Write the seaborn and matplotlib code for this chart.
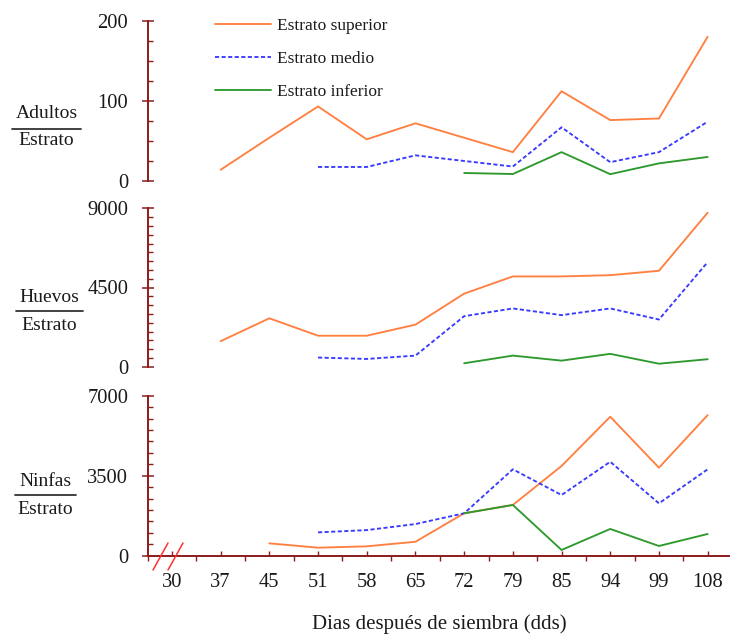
import numpy as np
import pandas as pd
import matplotlib
matplotlib.use("Agg")
import matplotlib.pyplot as plt
from matplotlib.ticker import MultipleLocator, FixedLocator
from matplotlib.lines import Line2D
import seaborn as sns

# Days after sowing (categorical axis) and the three canopy strata
dias = ["30", "37", "45", "51", "58", "65", "72", "79", "85", "94", "99", "108"]
estratos = ["Estrato superior", "Estrato medio", "Estrato inferior"]
nan = np.nan

# Adults per stratum
adultos_superior = [nan, 14, 54, 93, 52, 72, 54, 36, 112, 76, 78, 180]
adultos_medio = [nan, nan, nan, 17.5, 17.5, 32, 25, 18, 67, 23.5, 36, 74]
adultos_inferior = [nan, nan, nan, nan, nan, nan, 10, 8.7, 36, 8.5, 22, 30]

# Eggs per stratum
huevos_superior = [nan, 1450, 2750, 1760, 1760, 2390, 4150, 5130, 5130, 5200, 5450, 8750]
huevos_medio = [nan, nan, nan, 520, 440, 630, 2870, 3310, 2930, 3310, 2680, 5940]
huevos_inferior = [nan, nan, nan, nan, nan, nan, 195, 630, 345, 730, 170, 425]

# Nymphs per stratum
ninfas_superior = [nan, nan, 540, 350, 410, 610, 1855, 2220, 3925, 6080, 3850, 6150]
ninfas_medio = [nan, nan, nan, 1020, 1120, 1385, 1855, 3780, 2655, 4110, 2290, 3780]
ninfas_inferior = [nan, nan, nan, nan, nan, nan, 1855, 2220, 250, 1170, 425, 950]

paneles = [
    ("Adultos", [adultos_superior, adultos_medio, adultos_inferior], 200, 100, 25),
    ("Huevos", [huevos_superior, huevos_medio, huevos_inferior], 9000, 4500, 500),
    ("Ninfas", [ninfas_superior, ninfas_medio, ninfas_inferior], 7000, 3500, 500),
]

palette = {"Estrato superior": "#FF8040", "Estrato medio": "#3A3AFF",
           "Estrato inferior": "#2E9A2E"}
dashes = {"Estrato superior": "", "Estrato medio": (2.2, 1.3),
          "Estrato inferior": ""}

sns.set_theme(style="white")
plt.rcParams["font.family"] = ["Liberation Serif", "DejaVu Serif"]

AX_COLOR = "#8B1C1C"
TXT_COLOR = "#1a1a1a"
W, H = 730, 634

fig = plt.figure(figsize=(W / 100, H / 100), dpi=100)

def fx(px):
    return px / W

def fy(py):
    return 1 - py / H

# panel extents in pixels: (top, bottom)
extents = [(20.7, 181.0), (208.3, 366.7), (395.7, 555.7)]
left_px, right_px = 147.6, 732.0
pos = np.arange(len(dias))

axes = []
for i, ((nombre, series, ymax, major, minor), (t, b)) in enumerate(zip(paneles, extents)):
    ax = fig.add_axes([fx(left_px), fy(b), fx(right_px - left_px), (b - t) / H])
    axes.append(ax)
    frames = []
    for est, vals in zip(estratos, series):
        frames.append(pd.DataFrame({"pos": pos, "valor": vals, "estrato": est}))
    df = pd.concat(frames, ignore_index=True).dropna()
    sns.lineplot(data=df, x="pos", y="valor", hue="estrato", style="estrato",
                 hue_order=estratos, style_order=estratos, palette=palette,
                 dashes=dashes, linewidth=1.35, errorbar=None, ax=ax,
                 legend=(i == 0))
    ax.set_xlim(-0.5, 11.5)
    ax.set_ylim(0, ymax)
    ax.set_xlabel("")
    ax.set_ylabel("")
    ax.set_facecolor("none")
    for s in ["top", "right"]:
        ax.spines[s].set_visible(False)
    ax.spines["left"].set_color(AX_COLOR)
    ax.spines["left"].set_linewidth(1.4)
    ax.yaxis.set_major_locator(FixedLocator([0, major, ymax]))
    ax.yaxis.set_minor_locator(MultipleLocator(minor))
    ax.set_yticklabels([str(v) for v in [0, major, ymax]])
    ax.tick_params(axis="y", which="major", direction="inout", length=8,
                   width=1.1, color=AX_COLOR, pad=10, labelsize=14.8,
                   labelcolor=TXT_COLOR, left=True)
    ax.tick_params(axis="y", which="minor", direction="in", length=3.6,
                   width=1.0, color=AX_COLOR, left=True)
    if i < 2:
        ax.spines["bottom"].set_visible(False)
        ax.set_xticks([])
    else:
        ax.spines["bottom"].set_color(AX_COLOR)
        ax.spines["bottom"].set_linewidth(1.4)
        ax.xaxis.set_major_locator(FixedLocator(pos))
        ax.xaxis.set_minor_locator(FixedLocator(np.arange(-0.5, 12, 1.0)))
        ax.set_xticklabels(dias)
        ax.tick_params(axis="x", which="major", direction="in", length=3.8,
                       width=1.0, color=AX_COLOR, pad=12.5, labelsize=14.8,
                       labelcolor=TXT_COLOR, bottom=True)
        ax.tick_params(axis="x", which="minor", direction="out", length=3.8,
                       width=1.0, color=AX_COLOR, bottom=True)
        ax.set_xlabel("Dias después de siembra (dds)", fontsize=15,
                      color=TXT_COLOR, labelpad=16)

# legend inside the top panel
leg = axes[0].legend(loc="upper left", bbox_to_anchor=((215 - left_px) / (right_px - left_px), 1.02),
                     frameon=False, fontsize=12.5, handlelength=3.2,
                     handletextpad=0.35, labelspacing=0.98, borderpad=0,
                     borderaxespad=0)
for txt in leg.get_texts():
    txt.set_color(TXT_COLOR)

# fraction-style y labels
fracciones = [("Adultos", 114, 129.3, 141, 12, 81),
              ("Huevos", 297, 310.7, 325, 16, 83),
              ("Ninfas", 481, 495, 509, 15, 76)]
for arriba, ya, yl, yb, x0, x1 in fracciones:
    xc = (x0 + x1) / 2
    fig.text(fx(xc), fy(ya), arriba, ha="center", va="center", fontsize=14,
             color=TXT_COLOR)
    fig.text(fx(xc), fy(yb), "Estrato", ha="center", va="center", fontsize=14,
             color=TXT_COLOR)
    fig.add_artist(Line2D([fx(x0), fx(x1)], [fy(yl), fy(yl)], color="#333333",
                          lw=1.3, transform=fig.transFigure))

# axis break marks on the x axis
for xa, xb in [(153, 168), (168, 183)]:
    fig.add_artist(Line2D([fx(xa), fx(xb)], [fy(570), fy(543)], color="#FF3030",
                          lw=1.1, transform=fig.transFigure))

fig.savefig("out.png", dpi=100)
